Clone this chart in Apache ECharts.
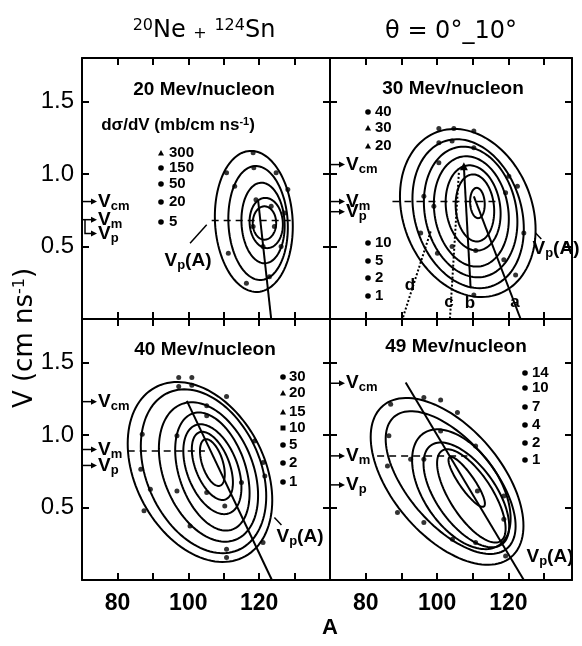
<!DOCTYPE html>
<html>
<head>
<meta charset="utf-8">
<script src="https://cdn.jsdelivr.net/npm/echarts@6/dist/echarts.min.js"></script>
<style>
html, body { margin: 0; padding: 0; background: #fff; }
#chart { width: 582px; height: 646px; }
</style>
</head>
<body>
<div id="chart"></div>
<script>
// ---- data ----
const xTickLabels = [80, 100, 120];
const yTickLabels = [0.5, 1.0, 1.5];
const panelTitles = ['20 Mev/nucleon', '30 Mev/nucleon', '40 Mev/nucleon', '49 Mev/nucleon'];
const refNames = ['cm', 'm', 'p'];

// contours: [centre A, centre V, half width (A), half height (V), V shift of rightmost point]
const contours20 = [
  [118.5, 0.673, 11.0, 0.485, -0.035],
  [119.7, 0.662, 8.4, 0.392, -0.03],
  [121.1, 0.662, 6.1, 0.277, -0.02],
  [122.0, 0.662, 4.7, 0.173, -0.01],
  [121.5, 0.662, 3.3, 0.115, 0]
];
const contours30 = [
  [108.6, 0.731, 19.0, 0.568, -0.115],
  [108.7, 0.726, 15.6, 0.503, -0.104],
  [109.4, 0.738, 13.1, 0.445, -0.069],
  [109.6, 0.742, 10.5, 0.377, -0.052],
  [110.1, 0.766, 7.7, 0.291, -0.040],
  [110.6, 0.766, 5.4, 0.230, -0.023],
  [111.3, 0.800, 2.05, 0.104, -0.010]
];
const contours40 = [
  [103.3, 0.745, 20.4, 0.589, -0.195],
  [104.3, 0.750, 17.7, 0.538, -0.172],
  [105.7, 0.745, 14.0, 0.453, -0.161],
  [106.8, 0.748, 10.5, 0.379, -0.149],
  [106.8, 0.764, 8.2, 0.283, -0.126],
  [106.8, 0.787, 5.8, 0.205, -0.115],
  [106.8, 0.810, 3.5, 0.140, -0.080]
];
const contours49 = [
  [102.8, 0.680, 21.4, 0.487, -0.306],
  [103.8, 0.672, 18.2, 0.390, -0.300],
  [106.8, 0.626, 13.8, 0.361, -0.201],
  [108.2, 0.587, 12.0, 0.290, -0.216],
  [109.6, 0.580, 9.6, 0.230, -0.225],
  [108.3, 0.677, 5.1, 0.085, -0.150]
];

// measured points on the contours [A, V]
const dots20 = [[118.3,1.147],[110.8,1.008],[113.1,0.916],[118.5,1.043],[124.8,1.008],[128.1,0.893],[127.2,0.731],[126.2,0.5],[122.9,0.292],[116.4,0.246],[111.3,0.454],[119.1,0.823],[123.4,0.777],[121.1,0.5],[118.3,0.638],[124.3,0.638]];
const dots30 = [[100.5,1.313],[104.7,1.313],[110.3,1.297],[104.2,1.227],[100.5,1.216],[110.3,1.181],[100.5,1.077],[120.1,0.985],[122.5,0.916],[119.2,0.87],[99.1,0.777],[104.2,0.5],[110.8,0.472],[118.7,0.408],[122.0,0.304],[110.3,0.166],[100.1,0.454],[124.3,0.593],[95.4,0.593],[96.3,0.846]];
const dots40 = [[97.3,1.397],[101,1.397],[97.3,1.334],[101,1.343],[110.8,1.265],[105.2,1.201],[118.7,0.959],[121.1,0.81],[121.6,0.718],[121.1,0.259],[110.8,0.155],[110.8,0.212],[100.5,0.373],[87.5,0.477],[89.3,0.626],[87,1.006],[86.6,0.764],[96.8,0.994],[110.3,0.511],[105.2,0.603],[96.8,0.614],[115,0.672],[105.2,1.132]];
const dots49 = [[87,1.212],[96.3,1.258],[101,1.242],[105.7,1.155],[101,1.028],[86.5,0.994],[86.1,0.787],[88.9,0.465],[104.3,0.281],[110.8,0.259],[119.2,0.166],[118.7,0.419],[110.8,0.925],[111.3,0.614],[92.6,0.833],[96.3,0.833],[118.7,0.58],[96.3,0.397]];

// Vcm, Vm, Vp
const vRef20 = [0.81, 0.685, 0.59];
const vRef30 = [1.065, 0.81, 0.74];
const vRef40 = [1.23, 0.90, 0.79];
const vRef49 = [1.357, 0.856, 0.656];

// Vm dashed lines
const vmLine20 = [[106.6, 0.68], [129.9, 0.68]];
const vmLine30 = [[87.5, 0.81], [116.9, 0.81]];
const vmLine40 = [[82.9, 0.89], [104.7, 0.89]];
const vmLine49 = [[83.2, 0.856], [108.5, 0.856]];

// Vp(A) lines and others
const vpLine20 = [[119.7, 0.82], [123.4, 0]];
const vpLine30 = [[110.3, 0.846], [123.4, 0]];
const bLine30 = [[107.5, 1.054], [109.4, 0.212]];
const cLine30 = [[106.1, 1.008], [103.6, 0]];
const dLine30 = [[98.2, 0.604], [90.3, 0]];
const vpLine40 = [[99.6, 1.235], [123.6, 0]];
const vpLine49 = [[91.2, 1.362], [124.3, 0]];
const leader20 = [[105.2, 0.65], [100.5, 0.523]];
const leader30 = [[127.6, 0.593], [129.2, 0.551]];
const leader40 = [[124.3, 0.431], [126.3, 0.379]];

const legend20Labels = ['300', '150', '50', '20', '5'];
const legend30Labels = ['40', '30', '20', '10', '5', '2', '1'];
const legend40Labels = ['30', '20', '15', '10', '5', '2', '1'];
const legend49Labels = ['14', '10', '7', '4', '2', '1'];

// ---- layout ----
const FONT = "'Liberation Sans Narrow', 'Liberation Sans', Arial, sans-serif";
const WIDE = "'DejaVu Sans', 'Liberation Sans', sans-serif";
const grids = [
  { left: 82, top: 58, width: 248, height: 261 },
  { left: 330, top: 58, width: 242, height: 261 },
  { left: 82, top: 319, width: 248, height: 261 },
  { left: 330, top: 319, width: 242, height: 261 }
];
const xMaxes = [140, 137.8, 140, 137.8];

const myChart = echarts.init(document.getElementById('chart'));

const xAxes = [];
const yAxes = [];
grids.forEach((g, i) => {
  const bottomRow = i >= 2;
  const leftCol = i % 2 === 0;
  const line = { show: true, onZero: false, lineStyle: { color: '#000', width: 2 } };
  const tick = { show: true, inside: true, length: 7, lineStyle: { color: '#000', width: 2 } };
  xAxes.push({
    gridIndex: i, type: 'value', position: 'bottom', min: 70, max: xMaxes[i], interval: 10,
    axisLine: line, axisTick: tick, splitLine: { show: false },
    axisLabel: {
      show: bottomRow, margin: 12, color: '#000', fontFamily: FONT, fontWeight: 'bold', fontSize: 23,
      formatter: v => (xTickLabels.includes(v) ? String(v) : '')
    }
  });
  xAxes.push({
    gridIndex: i, type: 'value', position: 'top', min: 70, max: xMaxes[i], interval: 10,
    axisLine: line, axisTick: tick, splitLine: { show: false }, axisLabel: { show: false }
  });
  yAxes.push({
    gridIndex: i, type: 'value', position: 'left', min: 0, max: 1.8, interval: 0.5,
    axisLine: line, axisTick: tick, splitLine: { show: false },
    axisLabel: {
      show: leftCol, margin: 8, color: '#000', fontFamily: FONT, fontSize: 24,
      formatter: v => (yTickLabels.includes(v) ? v.toFixed(1) : '')
    }
  });
  yAxes.push({
    gridIndex: i, type: 'value', position: 'right', min: 0, max: 1.8, interval: 0.5,
    axisLine: line, axisTick: tick, splitLine: { show: false }, axisLabel: { show: false }
  });
});

function contourSeries(i, data) {
  return {
    type: 'custom', xAxisIndex: 2 * i, yAxisIndex: 2 * i, clip: true, silent: true,
    data: data,
    renderItem: function (params, api) {
      const cx = api.value(0), cy = api.value(1), a = api.value(2), b = api.value(3), d = api.value(4);
      const pts = [];
      for (let k = 0; k < 120; k++) {
        const t = (k / 120) * Math.PI * 2;
        pts.push(api.coord([cx + a * Math.cos(t), cy + d * Math.cos(t) + b * Math.sin(t)]));
      }
      return { type: 'polygon', shape: { points: pts }, style: { fill: 'none', stroke: '#000', lineWidth: 2 } };
    }
  };
}

function dotSeries(i, data) {
  return {
    type: 'scatter', xAxisIndex: 2 * i, yAxisIndex: 2 * i, silent: true,
    data: data, symbolSize: 5, itemStyle: { color: '#000' }
  };
}

function lineSeries(i, data, type, width) {
  return {
    type: 'line', xAxisIndex: 2 * i, yAxisIndex: 2 * i, silent: true,
    data: data, symbol: 'none',
    lineStyle: { color: '#000', width: width || 2, type: type || 'solid' }
  };
}

const subRich = {
  v: { fontSize: 19, fontFamily: FONT, fontWeight: 'bold', fill: '#000', color: '#000' },
  s: { fontSize: 13, fontFamily: FONT, fontWeight: 'bold', fill: '#000', color: '#000', padding: [9, 0, 0, 0] }
};

function refSeries(i, vals, bent) {
  return {
    type: 'custom', xAxisIndex: 2 * i, yAxisIndex: 2 * i, silent: true,
    data: vals.map(v => [70, v]),
    renderItem: function (params, api) {
      const p = api.coord([api.value(0), api.value(1)]);
      const x0 = p[0], y = p[1];
      const tipX = x0 + 15;
      const children = [];
      if (bent && params.dataIndex === 2) {
        const yFrom = api.coord([70, vals[1]])[1];
        children.push({ type: 'polyline', shape: { points: [[x0 + 3, yFrom], [x0 + 3, y], [tipX - 4, y]] },
          style: { stroke: '#000', lineWidth: 1.5, fill: 'none' } });
      } else {
        children.push({ type: 'line', shape: { x1: x0, y1: y, x2: tipX - 4, y2: y }, style: { stroke: '#000', lineWidth: 1.5 } });
      }
      children.push({ type: 'polygon', shape: { points: [[tipX - 6, y - 3], [tipX, y], [tipX - 6, y + 3]] }, style: { fill: '#000' } });
      children.push({ type: 'text', style: { x: tipX + 1, y: y, text: '{v|V}{s|' + refNames[params.dataIndex] + '}',
        align: 'left', verticalAlign: 'middle', rich: subRich, fill: '#000' } });
      return { type: 'group', children: children };
    }
  };
}

// line b carries a small arrow head at its upper end
const bLineSeries = lineSeries(1, bLine30.map((p, k) => (k === 0 ? { value: p, symbol: 'triangle', symbolSize: 8 } : p)));
bLineSeries.showSymbol = true;
bLineSeries.itemStyle = { color: '#000' };

const series = [
  contourSeries(0, contours20), dotSeries(0, dots20), refSeries(0, vRef20, true),
  lineSeries(0, vmLine20, [7, 5], 1.5), lineSeries(0, vpLine20), lineSeries(0, leader20, 'solid', 1.5),

  contourSeries(1, contours30), dotSeries(1, dots30), refSeries(1, vRef30, false),
  lineSeries(1, vmLine30, [7, 5], 1.5), lineSeries(1, vpLine30), bLineSeries,
  lineSeries(1, cLine30, 'dotted', 2), lineSeries(1, dLine30, 'dotted', 2), lineSeries(1, leader30, 'solid', 1.5),

  contourSeries(2, contours40), dotSeries(2, dots40), refSeries(2, vRef40, false),
  lineSeries(2, vmLine40, [7, 5], 1.5), lineSeries(2, vpLine40), lineSeries(2, leader40, 'solid', 1.5),

  contourSeries(3, contours49), dotSeries(3, dots49), refSeries(3, vRef49, false),
  lineSeries(3, vmLine49, [7, 5], 1.5), lineSeries(3, vpLine49)
];

// ---- text and legend keys (pixel layout) ----
const graphics = [];
function addText(x, y, text, size, weight, family, align) {
  graphics.push({
    type: 'text', x: x, y: y, silent: true,
    style: { text: text, fill: '#000', font: (weight || 'normal') + ' ' + size + 'px ' + (family || FONT),
      align: align || 'center', verticalAlign: 'middle' }
  });
}
function addMarker(shape, x, y) {
  let el;
  if (shape === 'triangle') el = { type: 'polygon', shape: { points: [[x - 3, y + 2.5], [x + 3, y + 2.5], [x, y - 3]] } };
  else if (shape === 'square') el = { type: 'rect', shape: { x: x - 2.5, y: y - 2.5, width: 5, height: 5 } };
  else el = { type: 'circle', shape: { cx: x, cy: y, r: 2.8 } };
  el.style = { fill: '#000' };
  el.silent = true;
  graphics.push(el);
}

const titleRich = {
  n: { fontSize: 24, fontFamily: WIDE, fill: '#000' },
  u: { fontSize: 16, fontFamily: WIDE, fill: '#000', padding: [0, 0, 11, 0] },
  p: { fontSize: 16, fontFamily: WIDE, fill: '#000', padding: [6, 0, 0, 0] }
};
graphics.push({ type: 'text', x: 204, y: 31, silent: true,
  style: { text: '{u|20}{n|Ne }{p|+}{n| }{u|124}{n|Sn}', rich: titleRich, align: 'center', verticalAlign: 'middle' } });
addText(451, 32, 'θ = 0°_10°', 24, 'normal', WIDE);

const titlePos = [[204, 90], [453, 89], [205, 350], [456, 347]];
panelTitles.forEach((t, i) => addText(titlePos[i][0], titlePos[i][1], t, 19, 'bold'));

graphics.push({ type: 'text', x: 178, y: 125, silent: true,
  style: { text: '{n|dσ/dV (mb/cm ns}{u|-1}{n|)}', align: 'center', verticalAlign: 'middle',
    rich: { n: { fontSize: 17, fontWeight: 'bold', fontFamily: FONT, fill: '#000' },
            u: { fontSize: 11, fontWeight: 'bold', fontFamily: FONT, fill: '#000', padding: [0, 0, 7, 0] } } } });

const legendLayout = [
  { labels: legend20Labels, mx: 161, tx: 169, ys: [153, 168, 184, 202, 222], shapes: ['triangle', 'circle', 'circle', 'circle', 'circle'] },
  { labels: legend30Labels, mx: 368, tx: 375, ys: [112, 128, 146, 243, 261, 278, 296], shapes: ['circle', 'triangle', 'triangle', 'circle', 'circle', 'circle', 'circle'] },
  { labels: legend40Labels, mx: 283, tx: 289, ys: [377, 393, 412, 428, 445, 463, 482], shapes: ['circle', 'triangle', 'triangle', 'square', 'circle', 'circle', 'circle'] },
  { labels: legend49Labels, mx: 525, tx: 532, ys: [373, 388, 407, 425, 443, 460], shapes: ['circle', 'circle', 'circle', 'circle', 'circle', 'circle'] }
];
legendLayout.forEach(L => {
  L.labels.forEach((lab, k) => {
    addMarker(L.shapes[k], L.mx, L.ys[k]);
    addText(L.tx, L.ys[k], lab, 15, 'bold', FONT, 'left');
  });
});

const vpLabelPos = [[188, 261], [556, 249], [300, 537], [550, 557]];
vpLabelPos.forEach(p => {
  graphics.push({ type: 'text', x: p[0], y: p[1], silent: true,
    style: { text: '{v|V}{s|p}{v|(A)}', rich: subRich, align: 'center', verticalAlign: 'middle' } });
});

const letterPos = [['a', 515, 302], ['b', 470, 303], ['c', 449, 302], ['d', 410, 285]];
letterPos.forEach(l => addText(l[1], l[2], l[0], 17, 'bold'));

addText(330, 628, 'A', 22, 'bold');
graphics.push({ type: 'text', x: 25, y: 338, rotation: Math.PI / 2, silent: true,
  style: { text: '{n|V (cm ns}{u|-1}{n|)}', align: 'center', verticalAlign: 'middle',
    rich: { n: { fontSize: 26, fontFamily: WIDE, fill: '#000' },
            u: { fontSize: 16, fontFamily: WIDE, fill: '#000', padding: [0, 0, 11, 0] } } } });

const option = {
  animation: false,
  backgroundColor: '#fff',
  grid: grids.map(g => Object.assign({ show: false, containLabel: false }, g)),
  xAxis: xAxes,
  yAxis: yAxes,
  series: series,
  graphic: graphics
};
myChart.setOption(option);
</script>
</body>
</html>
